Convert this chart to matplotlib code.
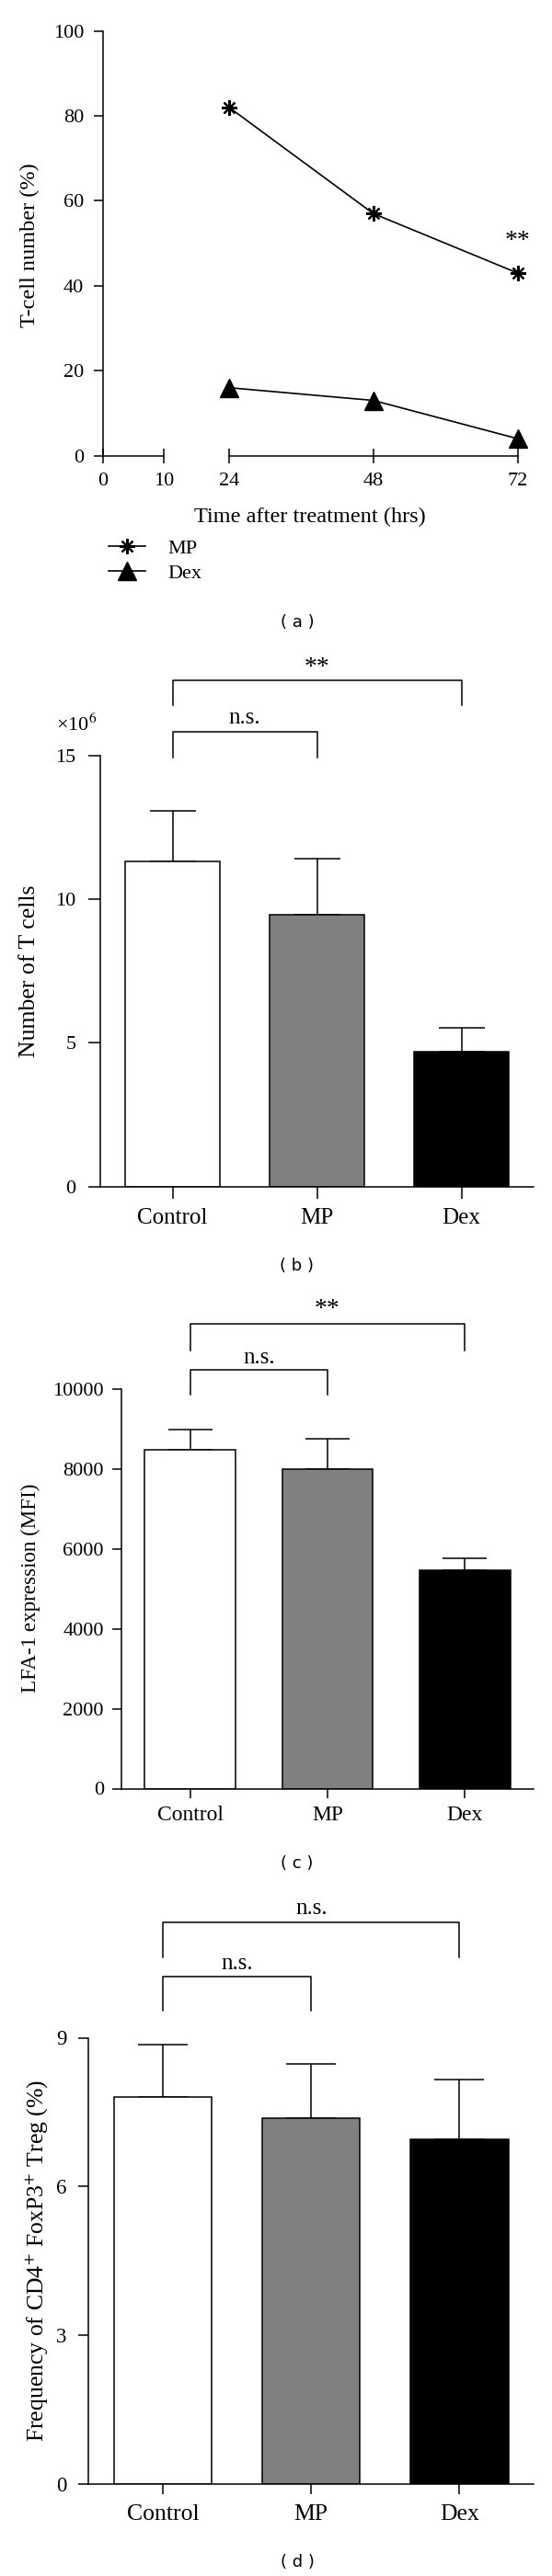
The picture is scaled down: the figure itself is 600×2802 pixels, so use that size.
import numpy as np
import matplotlib
matplotlib.use("Agg")
import matplotlib.pyplot as plt

W, H = 600, 2802

plt.rcParams['font.family'] = ['Liberation Serif', 'DejaVu Serif']
plt.rcParams['mathtext.fontset'] = 'stix'
plt.rcParams['axes.linewidth'] = 1.1
plt.rcParams['xtick.major.width'] = 1.1
plt.rcParams['ytick.major.width'] = 1.1

# (a) T-cell number over time
hours = [24, 48, 72]
mp_pct = [82, 57, 43]
dex_pct = [16, 13, 4]

# (b)-(d) bar panels
groups = ['Control', 'MP', 'Dex']
bar_colors = ['white', '#808080', 'black']
tcell_mean = [11.31, 9.47, 4.69]
tcell_err = [1.75, 1.95, 0.85]
lfa_mean = [8490, 7995, 5460]
lfa_err = [495, 767, 307]
treg_mean = [7.80, 7.38, 6.95]
treg_err = [1.06, 1.10, 1.21]


def px_axes(fig, x0, y0, x1, y1):
    return fig.add_axes([x0 / W, 1 - y1 / H, (x1 - x0) / W, (y1 - y0) / H])


def fx(x):
    return x / W


def fy(y):
    return 1 - y / H


def bracket(ax, x0, x1, ytop, yleg, label, ytext, fs):
    ax.plot([x0, x0, x1, x1], [yleg, ytop, ytop, yleg], color='black', lw=1.1, clip_on=False)
    ax.text((x0 + x1) / 2, ytext, label, ha='center', va='center', fontsize=fs, clip_on=False)


def bar_panel(fig, box, means, errs, ylim, yticks, capsize, ytick_pad, xtick_pad, tick_len, xfs, yfs):
    ax = px_axes(fig, *box)
    x = np.arange(len(groups))
    ax.bar(x, means, width=0.66, color=bar_colors, edgecolor='black', linewidth=1.1, zorder=2)
    ax.errorbar(x, means, yerr=[np.zeros(len(errs)), errs], fmt='none', ecolor='black',
                elinewidth=1.1, capsize=capsize, capthick=1.1, zorder=1)
    ax.set_xlim(-0.5, 2.5)
    ax.set_ylim(*ylim)
    ax.set_yticks(yticks)
    ax.set_xticks(x)
    ax.set_xticklabels(groups)
    for s in ('top', 'right'):
        ax.spines[s].set_visible(False)
    ax.tick_params(axis='y', direction='out', length=tick_len, pad=ytick_pad, labelsize=yfs)
    ax.tick_params(axis='x', direction='out', length=tick_len, pad=xtick_pad, labelsize=xfs)
    return ax


fig = plt.figure(figsize=(W / 100, H / 100), dpi=100)

# ---------------- panel (a) ----------------
axL = px_axes(fig, 111.7, 33.7, 178, 495.6)
axR = px_axes(fig, 249, 33.7, 562.6, 495.6)
for ax in (axL, axR):
    ax.set_ylim(0, 100)
    ax.spines['top'].set_visible(False)
    ax.spines['right'].set_visible(False)
    ax.tick_params(axis='x', direction='inout', length=12, pad=7, labelsize=16)
axL.set_xlim(0, 10)
axL.set_xticks([0, 10])
axL.set_yticks(range(0, 101, 20))
axL.tick_params(axis='y', direction='out', length=7.4, pad=7.5, labelsize=16)
axR.set_xlim(24, 72)
axR.set_xticks(hours)
axR.spines['left'].set_visible(False)
axR.tick_params(axis='y', left=False, labelleft=False)

l1, = axR.plot(hours, mp_pct, color='black', lw=1.2, marker=(8, 2, 0), markersize=12,
               markeredgewidth=1.6, clip_on=False, label='MP')
l2, = axR.plot(hours, dex_pct, color='black', lw=1.2, marker='^', markersize=14,
               clip_on=False, label='Dex')
axR.text(72, 50.5, '**', ha='center', va='center', fontsize=20)

fig.text(fx(32.5), fy(267), 'T-cell number (%)', rotation=90, ha='center', va='center', fontsize=17.5)
fig.text(fx(337), fy(562), 'Time after treatment (hrs)', ha='center', va='center', fontsize=17.5)
fig.legend(handles=[l1, l2], labels=['MP', 'Dex'], loc='upper left',
           bbox_to_anchor=(fx(118), fy(586)), frameon=False, fontsize=16,
           handlelength=1.8, handletextpad=1.1, labelspacing=0.3,
           borderpad=0, borderaxespad=0)
fig.text(fx(323), fy(677), '( a )', family='DejaVu Sans', ha='center', va='center', fontsize=13)

# ---------------- panel (b) ----------------
axb = bar_panel(fig, (109, 821.7, 580, 1290.8), tcell_mean, tcell_err, (0, 15), [0, 5, 10, 15],
                18.2, 9.6, 7, 9.6, 18, 16)
bracket(axb, 0, 2, 17.62, 16.74, '**', 18.03, 20)
bracket(axb, 0, 1, 15.81, 14.93, 'n.s.', 16.3, 18)
fig.text(fx(61), fy(788), '×10$^{6}$', ha='left', va='center', fontsize=16)
fig.text(fx(32.5), fy(1056), 'Number of T cells', rotation=90, ha='center', va='center', fontsize=18.5)
fig.text(fx(323), fy(1377), '( b )', family='DejaVu Sans', ha='center', va='center', fontsize=13)

# ---------------- panel (c) ----------------
axc = bar_panel(fig, (132, 1511, 580, 1945.5), lfa_mean, lfa_err, (0, 10000),
                [0, 2000, 4000, 6000, 8000, 10000], 17.5, 6.8, 6, 7, 17, 16)
bracket(axc, 0, 2, 11625, 10971, '**', 11986, 20)
bracket(axc, 0, 1, 10488, 9853, 'n.s.', 10778, 18)
fig.text(fx(33.5), fy(1727), 'LFA-1 expression (MFI)', rotation=90, ha='center', va='center', fontsize=16.6)
fig.text(fx(323), fy(2027), '( c )', family='DejaVu Sans', ha='center', va='center', fontsize=13)

# ---------------- panel (d) ----------------
axd = bar_panel(fig, (96.4, 2216.5, 580, 2702.2), treg_mean, treg_err, (0, 9), [0, 3, 6, 9],
                19.2, 9.6, 8, 7.7, 18.5, 16.5)
bracket(axd, 0, 2, 11.33, 10.62, 'n.s.', 11.6, 18)
bracket(axd, 0, 1, 10.23, 9.55, 'n.s.', 10.5, 18)
fig.text(fx(39.6), fy(2459), 'Frequency of CD4$^{+}$ FoxP3$^{+}$ Treg (%)', rotation=90,
         ha='center', va='center', fontsize=18.5)
fig.text(fx(323), fy(2787), '( d )', family='DejaVu Sans', ha='center', va='center', fontsize=13)

fig.savefig('out.png', dpi=100)
